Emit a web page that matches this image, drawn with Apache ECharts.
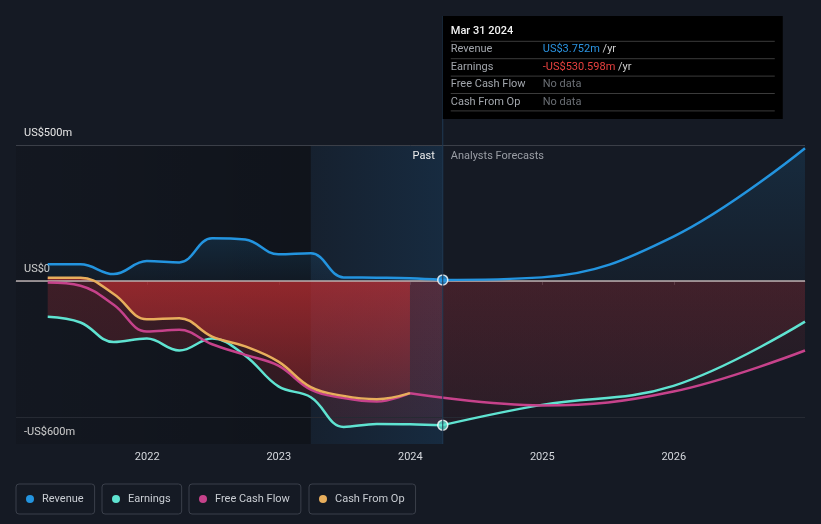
<!DOCTYPE html>
<html>
<head>
<meta charset="utf-8">
<script src="https://cdn.jsdelivr.net/npm/echarts@6/dist/echarts.min.js"></script>
<style>
html,body{margin:0;padding:0;background:#151a24;}
#c{width:821px;height:524px;}
</style>
</head>
<body>
<div id="c"></div>
<script>
// ---------- data ----------
const quarterDates = ['2021-03-31','2021-06-30','2021-09-30','2021-12-31','2022-03-31','2022-06-30','2022-09-30','2022-12-31','2023-03-31','2023-06-30','2023-09-30','2023-12-31','2024-03-31'];
const revenuePast  = [61, 61, 25, 73, 68, 157, 152, 98, 102, 13, 12, 10, 3.752];
const earningsPast = [-132, -153, -225, -212, -256, -212, -275, -388, -428, -537, -526, -527, -530.598];
const cashDates    = ['2021-03-31','2021-06-30','2021-09-30','2021-12-31','2022-03-31','2022-06-30','2022-09-30','2022-12-31','2023-03-31','2023-06-30','2023-09-30','2023-12-31'];
const fcfPast      = [-6, -18, -88, -186, -180, -233, -272, -312, -400, -431, -444, -413];
const cfoPast      = [12, 12, -48, -141, -137, -205, -241, -297, -391, -423, -435, -413];

const revenueFcDates  = ['2024-03-31','2024-12-31','2025-12-31','2026-12-31'];
const revenueFc       = [3.752, 13, 163, 488];
const earningsFcDates = ['2024-03-31','2024-12-31','2025-12-31','2026-12-31'];
const earningsFc      = [-530.598, -456, -386, -150];
const fcfFcDates      = ['2023-12-31','2024-12-31','2025-12-31','2026-12-31'];
const fcfFc           = [-413, -458, -407, -256];

const currentDate = '2024-03-31';
const bandStart   = '2023-03-31';
const axisStart   = '2021-01-02';
const axisEnd     = '2026-12-31';
const yTickLabels = {'500':'US$500m','0':'US$0','-600':'-US$600m'};
const gridValues  = [500, -500];

const legendNames = ['Revenue','Earnings','Free Cash Flow','Cash From Op'];
const tipTitle  = 'Mar 31 2024';
const tipLabels = ['Revenue','Earnings','Free Cash Flow','Cash From Op'];
const tipValues = ['US$3.752m','-US$530.598m','No data','No data'];
const tipUnits  = [' /yr',' /yr','',''];

// ---------- style ----------
const C = {rev:'#2394df', earn:'#5fe3d1', fcf:'#c6428b', cfo:'#e8ae5c'};
const FONT = 'Roboto, "Noto Sans", sans-serif';
const SMOOTH = 0.4;
const zip = (d, v) => d.map((x, i) => [x, v[i]]);
const vgrad = (c0, c1) => new echarts.graphic.LinearGradient(0,0,0,1,[{offset:0,color:c0},{offset:1,color:c1}]);
const hgrad = (c0, c1) => new echarts.graphic.LinearGradient(0,0,1,0,[{offset:0,color:c0},{offset:1,color:c1}]);

function lineS(name, data, color) {
  return {type:'line', name, data, smooth:SMOOTH, showSymbol:false, symbol:'none',
    lineStyle:{color, width:2.5}, itemStyle:{color}, z:5, silent:true};
}
function areaS(data, area) {
  return {type:'line', data, smooth:SMOOTH, showSymbol:false, symbol:'none',
    lineStyle:{width:0, opacity:0}, areaStyle:{color:area, origin:0}, z:2, silent:true};
}

const chart = echarts.init(document.getElementById('c'), null, {renderer:'canvas'});

const option = {
  backgroundColor:'#151a24',
  animation:false,
  textStyle:{fontFamily:FONT},
  grid:{left:16, right:16, top:145, bottom:80},
  xAxis:{
    type:'time', min:axisStart, max:axisEnd,
    minInterval:365*86400000,
    axisLine:{show:true, lineStyle:{color:'#3c414b', width:1}},
    axisTick:{show:true, length:4, lineStyle:{color:'#3c414b'}},
    axisLabel:{color:'#d4d7dc', fontSize:11, margin:8, formatter:'{yyyy}', showMinLabel:false, showMaxLabel:false},
    splitLine:{show:false}
  },
  yAxis:{
    type:'value', min:-600, max:500, interval:100,
    axisLine:{show:false}, axisTick:{show:false}, splitLine:{show:false},
    axisLabel:{inside:true, margin:8, color:'#e6e6e6', fontSize:11, verticalAlign:'bottom', lineHeight:14, padding:[0,0,5,0],
      formatter:(v)=> yTickLabels[String(v)] || ''}
  },
  legend: legendNames.map((n,i)=>({
    data:[{name:n, icon:'circle'}], left:[16,102,189,309][i], top:484,
    itemWidth:14, itemHeight:8, padding:[9,11,9,10],
    borderColor:'#3a3f4a', borderWidth:1, borderRadius:3,
    selectedMode:false,
    textStyle:{color:'#c9cdd3', fontSize:11, fontFamily:FONT, lineHeight:12}
  })),
  series:[
    // background helpers
    {type:'line', data:[], z:1, silent:true,
      markArea:{silent:true, data:[
        [{xAxis:axisStart, itemStyle:{color:hgrad('rgba(0,0,0,0.10)','rgba(0,0,0,0.25)')}}, {xAxis:bandStart}]
      ]},
      markLine:{silent:true, symbol:'none', label:{show:false},
        data: gridValues.map((v,i)=>({yAxis:v, lineStyle:{color: i===0 ? '#3b3f48' : '#262a33', width:1, type:'solid'}}))}
    },
    // areas
    areaS(zip(quarterDates, revenuePast), vgrad('rgba(35,148,223,0.22)','rgba(35,148,223,0.06)')),
    areaS(zip(revenueFcDates, revenueFc), vgrad('rgba(35,148,223,0.20)','rgba(35,148,223,0.05)')),
    areaS(zip(quarterDates, earningsPast), vgrad('rgba(190,50,60,0.36)','rgba(190,50,60,0.24)')),
    areaS(zip(earningsFcDates, earningsFc), vgrad('rgba(190,50,60,0.20)','rgba(190,50,60,0.10)')),
    areaS(zip(fcfFcDates, fcfFc), vgrad('rgba(190,50,60,0.20)','rgba(190,50,60,0.10)')),
    areaS(zip(cashDates, cfoPast), vgrad('rgba(215,48,50,0.80)','rgba(215,48,50,0.30)')),
    // band + zero line
    {type:'line', data:[], z:3, silent:true,
      markArea:{silent:true, data:[
        [{xAxis:bandStart, itemStyle:{color:hgrad('rgba(30,110,175,0.08)','rgba(30,110,175,0.20)')}}, {xAxis:currentDate}]
      ]},
      markLine:{silent:true, symbol:'none', label:{show:false},
        data:[{yAxis:0, lineStyle:{color:'#b8aeae', width:1.5, type:'solid'}}]}
    },
    // lines
    lineS('Earnings', zip(quarterDates, earningsPast), C.earn),
    lineS('Earnings', zip(earningsFcDates, earningsFc), C.earn),
    lineS('Free Cash Flow', zip(cashDates, fcfPast), C.fcf),
    lineS('Free Cash Flow', zip(fcfFcDates, fcfFc), C.fcf),
    lineS('Cash From Op', zip(cashDates, cfoPast), C.cfo),
    lineS('Revenue', zip(quarterDates, revenuePast), C.rev),
    lineS('Revenue', zip(revenueFcDates, revenueFc), C.rev),
    // current markers
    {type:'scatter', data:[[currentDate, revenuePast[revenuePast.length-1]]], symbolSize:10, z:10, silent:true,
      itemStyle:{color:C.rev, borderColor:'#ffffff', borderWidth:1.5}},
    {type:'scatter', data:[[currentDate, earningsPast[earningsPast.length-1]]], symbolSize:10, z:10, silent:true,
      itemStyle:{color:C.earn, borderColor:'#ffffff', borderWidth:1.5}}
  ]
};
chart.setOption(option);

// ---------- tooltip-like info box and divider ----------
const px = chart.convertToPixel({xAxisIndex:0}, echarts.number.parseDate(currentDate).getTime());
const boxTop = 16, boxW = 340, boxH = 103, rowH = 17.4;
const elems = [];
elems.push({type:'line', shape:{x1:px, y1:boxTop, x2:px, y2:444}, style:{stroke:'#1f3a53', lineWidth:1}, z:50, silent:true});
elems.push({type:'rect', shape:{x:px, y:boxTop, width:boxW, height:boxH}, style:{fill:'#000000'}, z:60, silent:true});
elems.push({type:'text', x:px+8, y:boxTop+15, z:61, silent:true,
  style:{text:tipTitle, fill:'#f2f2f2', font:'500 11px '+FONT, verticalAlign:'middle'}});
for (let i=0;i<5;i++){
  const ly = boxTop + 25.3 + i*rowH;
  elems.push({type:'line', shape:{x1:px+8, y1:ly, x2:px+332, y2:ly}, style:{stroke:'#3b3b3b', lineWidth:1}, z:61, silent:true});
}
const valColors = ['#2a93e0','#e8413f','#6b6f75','#6b6f75'];
tipLabels.forEach((lab,i)=>{
  const cy = boxTop + 33.6 + i*rowH;
  elems.push({type:'text', x:px+8, y:cy, z:61, silent:true,
    style:{text:lab, fill:'#a2a6ac', font:'11px '+FONT, verticalAlign:'middle'}});
  elems.push({type:'text', x:px+100, y:cy, z:61, silent:true,
    style:{text:'{v|'+tipValues[i]+'}'+(tipUnits[i] ? '{u|'+tipUnits[i]+'}' : ''), verticalAlign:'middle',
      font:'11px '+FONT,
      rich:{v:{fill:valColors[i], font:'11px '+FONT}, u:{fill:'#cfcfcf', font:'11px '+FONT}}}});
});
elems.push({type:'text', x:px-8, y:156, z:61, silent:true,
  style:{text:'Past', fill:'#ececec', font:'11px '+FONT, align:'right', verticalAlign:'middle'}});
elems.push({type:'text', x:px+8, y:156, z:61, silent:true,
  style:{text:'Analysts Forecasts', fill:'#9a9ea5', font:'11px '+FONT, align:'left', verticalAlign:'middle'}});
chart.setOption({graphic:{elements:elems}});
</script>
</body>
</html>
